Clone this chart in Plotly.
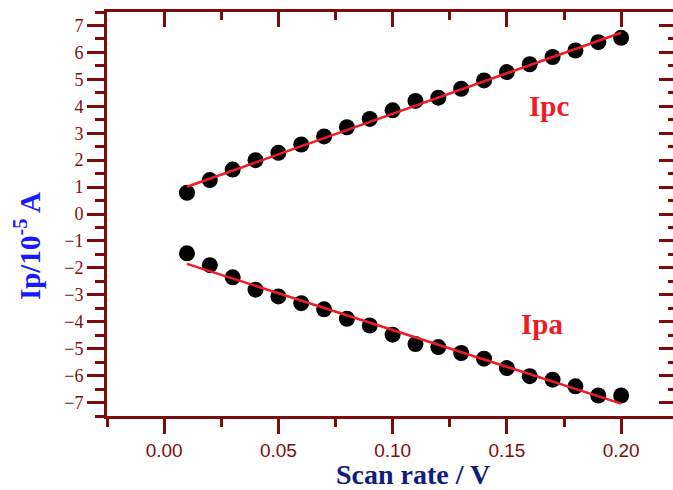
import plotly.graph_objects as go

scan_rate = [0.01, 0.02, 0.03, 0.04, 0.05, 0.06, 0.07, 0.08, 0.09, 0.10,
             0.11, 0.12, 0.13, 0.14, 0.15, 0.16, 0.17, 0.18, 0.19, 0.20]
ipc = [0.79, 1.26, 1.65, 2.00, 2.27, 2.58, 2.88, 3.22, 3.53, 3.85,
       4.20, 4.32, 4.65, 4.96, 5.27, 5.56, 5.83, 6.07, 6.38, 6.54]
ipa = [-1.46, -1.90, -2.35, -2.81, -3.06, -3.31, -3.54, -3.89, -4.14, -4.48,
       -4.83, -4.94, -5.16, -5.37, -5.72, -6.02, -6.15, -6.40, -6.74, -6.74]
fit_x = [0.01, 0.20]
ipc_fit = [1.01, 6.73]
ipa_fit = [-1.85, -7.04]

AX = "#7d0d0d"
RED = "#ee1c25"

fig = go.Figure()
for yv, fv in [(ipc, ipc_fit), (ipa, ipa_fit)]:
    fig.add_trace(go.Scatter(x=scan_rate, y=yv, mode="markers",
                             marker=dict(color="black", size=16, line=dict(width=0)),
                             showlegend=False))
    fig.add_trace(go.Scatter(x=fit_x, y=fv, mode="lines",
                             line=dict(color=RED, width=2.5), showlegend=False))
fig.add_trace(go.Scatter(x=[None], y=[None], xaxis="x2", yaxis="y2", showlegend=False))

xr = [-0.025, 0.2227]
yr = [-7.5, 7.5]
fig.update_layout(
    width=673, height=490,
    margin=dict(l=107, r=0, t=12, b=74),
    plot_bgcolor="white", paper_bgcolor="white",
    xaxis=dict(range=xr, dtick=0.05, tick0=0, tickformat=".2f",
               showgrid=False, zeroline=False,
               showline=True, linecolor=AX, linewidth=3, mirror=True,
               ticks="outside", ticklen=15, tickwidth=3, tickcolor=AX,
               minor=dict(dtick=0.025, tick0=0, ticks="outside", ticklen=8, tickwidth=3, tickcolor=AX),
               tickfont=dict(family="Liberation Sans", size=19, color=AX)),
    yaxis=dict(range=yr, dtick=1, tick0=0, showgrid=False, zeroline=False,
               showline=True, linecolor=AX, linewidth=3,
               ticks="outside", ticklen=17, tickwidth=3, tickcolor=AX,
               minor=dict(dtick=0.5, tick0=0, ticks="outside", ticklen=9, tickwidth=3, tickcolor=AX),
               tickfont=dict(family="Liberation Serif", size=18, color=AX)),
    xaxis2=dict(range=xr, overlaying="x", side="top",
                dtick=0.05, tick0=0, showticklabels=False, showgrid=False, zeroline=False,
                showline=False, ticks="inside", ticklen=15, tickwidth=3, tickcolor=AX,
                minor=dict(dtick=0.025, tick0=0, ticks="inside", ticklen=8, tickwidth=3, tickcolor=AX)),
    yaxis2=dict(range=yr, overlaying="y", side="right",
                dtick=1, tick0=0, showticklabels=False, showgrid=False, zeroline=False,
                showline=False, ticks="inside", ticklen=14, tickwidth=3, tickcolor=AX,
                minor=dict(dtick=0.5, tick0=0, ticks="inside", ticklen=5, tickwidth=3, tickcolor=AX)),
    annotations=[
        dict(text="<b>Scan rate / V</b>", xref="paper", yref="paper", x=0.54, y=-0.145,
             xanchor="center", yanchor="middle", showarrow=False,
             font=dict(family="Liberation Serif", size=28, color="#101c80")),
        dict(text="<b>Ip/10<sup>-5</sup> A</b>", xref="paper", yref="paper", x=-0.14, y=0.42,
             xanchor="center", yanchor="middle", showarrow=False, textangle=-90,
             font=dict(family="Liberation Serif", size=29, color="#1a1aff")),
        dict(text="<b>Ipc</b>", xref="x", yref="y", x=0.1685, y=4.0,
             xanchor="center", yanchor="middle", showarrow=False,
             font=dict(family="Liberation Serif", size=29, color=RED)),
        dict(text="<b>Ipa</b>", xref="x", yref="y", x=0.1655, y=-4.1,
             xanchor="center", yanchor="middle", showarrow=False,
             font=dict(family="Liberation Serif", size=29, color=RED)),
    ],
)
fig.write_html("out.html")
